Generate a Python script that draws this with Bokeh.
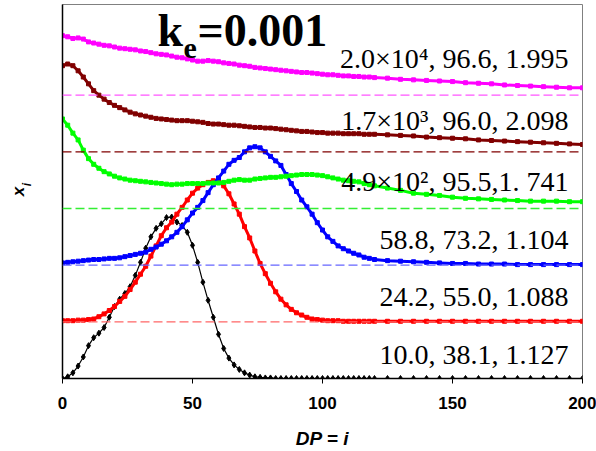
from bokeh.plotting import figure
from bokeh.models import Label, FixedTicker, Range1d, Span
from bokeh.embed import file_html
from bokeh.resources import INLINE

# Degree of polymerisation sampled values
DP = list(range(0, 121, 2)) + list(range(125, 201, 5))

# heights above each curve's own baseline
black_vals = [0.00, 0.03, 0.10, 0.22, 0.38, 0.58, 0.72, 0.80, 0.90, 1.08,
              1.27, 1.40, 1.50, 1.62, 1.82, 2.05, 2.30, 2.50, 2.65, 2.73,
              2.84, 2.85, 2.76, 2.70, 2.58, 2.35, 2.05, 1.70, 1.38, 1.08,
              0.78, 0.53, 0.36, 0.24, 0.16, 0.10, 0.06, 0.03, 0.02, 0.01,
              0.01, 0.00, 0.00, 0.00, 0.00, 0.00, 0.00, 0.00, 0.00, 0.00,
              0.00, 0.00, 0.00, 0.00, 0.00, 0.00, 0.00, 0.00, 0.00, 0.00,
              0.00,
              0.00, 0.00, 0.00, 0.00, 0.00, 0.00, 0.00, 0.00, 0.00, 0.00,
              0.00, 0.00, 0.00, 0.00, 0.00, 0.00]
red_vals = [0.02, 0.02, 0.02, 0.03, 0.03, 0.04, 0.05, 0.09, 0.14, 0.20,
            0.27, 0.36, 0.45, 0.57, 0.70, 0.84, 0.98, 1.16, 1.34, 1.52,
            1.66, 1.76, 1.90, 2.02, 2.15, 2.27, 2.36, 2.42, 2.46, 2.49,
            2.49, 2.40, 2.26, 2.08, 1.90, 1.68, 1.48, 1.25, 1.03, 0.85,
            0.68, 0.53, 0.40, 0.30, 0.22, 0.16, 0.12, 0.08, 0.05, 0.04,
            0.03, 0.02, 0.02, 0.02, 0.01, 0.01, 0.01, 0.01, 0.01, 0.01,
            0.01,
            0.01, 0.01, 0.01, 0.01, 0.01, 0.01, 0.01, 0.01, 0.01, 0.01,
            0.01, 0.01, 0.01, 0.01, 0.01, 0.01]
blue_vals = [0.04, 0.05, 0.06, 0.07, 0.08, 0.09, 0.10, 0.10, 0.11, 0.12,
             0.12, 0.13, 0.15, 0.17, 0.19, 0.21, 0.23, 0.28, 0.32, 0.37,
             0.43, 0.50, 0.58, 0.68, 0.80, 0.92, 1.02, 1.14, 1.28, 1.42,
             1.54, 1.66, 1.78, 1.85, 1.90, 2.00, 2.07, 2.09, 2.07, 2.00,
             1.92, 1.84, 1.76, 1.60, 1.44, 1.30, 1.15, 1.03, 0.90, 0.75,
             0.62, 0.50, 0.42, 0.34, 0.29, 0.25, 0.21, 0.18, 0.14, 0.12,
             0.10,
             0.08, 0.07, 0.06, 0.05, 0.04, 0.03, 0.03, 0.02, 0.02, 0.02,
             0.01, 0.01, 0.01, 0.01, 0.01, 0.01]
green_vals = [1.58, 1.47, 1.33, 1.21, 1.03, 0.88, 0.78, 0.71, 0.65, 0.61,
              0.57, 0.54, 0.52, 0.50, 0.49, 0.48, 0.47, 0.46, 0.45, 0.44,
              0.43, 0.42, 0.43, 0.43, 0.44, 0.44, 0.44, 0.44, 0.45, 0.45,
              0.45, 0.46, 0.48, 0.50, 0.51, 0.50, 0.50, 0.52, 0.53, 0.54,
              0.55, 0.55, 0.56, 0.57, 0.58, 0.59, 0.60, 0.60, 0.60, 0.59,
              0.58, 0.56, 0.54, 0.52, 0.50, 0.49, 0.48, 0.47, 0.44, 0.42,
              0.40,
              0.36, 0.32, 0.27, 0.25, 0.23, 0.20, 0.18, 0.17, 0.16, 0.15,
              0.14, 0.13, 0.13, 0.13, 0.12, 0.12]
darkred_vals = [1.52, 1.55, 1.52, 1.43, 1.32, 1.20, 1.08, 1.00, 0.93, 0.87,
                0.82, 0.78, 0.74, 0.70, 0.67, 0.65, 0.63, 0.61, 0.59, 0.58,
                0.57, 0.56, 0.55, 0.55, 0.55, 0.54, 0.53, 0.52, 0.50, 0.49,
                0.49, 0.48, 0.47, 0.47, 0.46, 0.45, 0.44, 0.43, 0.43, 0.42,
                0.42, 0.41, 0.40, 0.39, 0.38, 0.37, 0.36, 0.36, 0.35, 0.34,
                0.34, 0.33, 0.33, 0.33, 0.32, 0.32, 0.32, 0.32, 0.31, 0.31,
                0.31,
                0.30, 0.29, 0.28, 0.26, 0.25, 0.24, 0.23, 0.21, 0.20, 0.19,
                0.18, 0.17, 0.16, 0.15, 0.14, 0.13]
magenta_vals = [1.05, 1.03, 1.00, 1.01, 0.99, 0.94, 0.92, 0.90, 0.88, 0.87,
                0.85, 0.83, 0.82, 0.81, 0.80, 0.78, 0.77, 0.75, 0.73, 0.72,
                0.71, 0.69, 0.67, 0.66, 0.64, 0.62, 0.60, 0.60, 0.61, 0.60,
                0.59, 0.57, 0.56, 0.55, 0.53, 0.52, 0.51, 0.49, 0.48, 0.47,
                0.46, 0.45, 0.44, 0.43, 0.42, 0.41, 0.40, 0.40, 0.39, 0.38,
                0.37, 0.36, 0.36, 0.35, 0.34, 0.34, 0.33, 0.33, 0.32, 0.32,
                0.31,
                0.30, 0.28, 0.27, 0.26, 0.25, 0.24, 0.22, 0.21, 0.20, 0.18,
                0.17, 0.16, 0.15, 0.14, 0.13, 0.13]

series_vals = [black_vals, red_vals, blue_vals, green_vals, darkred_vals, magenta_vals]
series_colors = ["#000000", "#FF0000", "#0000FF", "#00FF00", "#800000", "#FF00FF"]
dash_colors = ["#000000", "#FF6666", "#6666FF", "#33EE33", "#800000", "#FF55FF"]
series_labels = ["10.0, 38.1, 1.127", "24.2, 55.0, 1.088", "58.8, 73.2, 1.104",
                 "4.9×10², 95.5,1. 741", "1.7×10³, 96.0, 2.098", "2.0×10⁴, 96.6, 1.995"]
label_y = [0.43, 1.44, 2.46, 3.47, 4.56, 5.64]

x_ticks = [0, 50, 100, 150, 200]

p = figure(width=596, height=451, x_range=Range1d(0, 200), y_range=Range1d(0, 6.6),
           output_backend="svg", toolbar_location=None,
           min_border_left=62, min_border_right=14, min_border_top=4, min_border_bottom=73)
p.xgrid.visible = False
p.ygrid.visible = False
p.outline_line_color = "#808080"
p.outline_line_width = 1
p.background_fill_color = "white"
p.border_fill_color = "white"

p.xaxis.ticker = FixedTicker(ticks=x_ticks)
p.xaxis.major_tick_out = 5
p.xaxis.major_tick_in = 0
p.xaxis.minor_tick_line_color = None
p.xaxis.axis_line_color = "black"
p.xaxis.axis_line_width = 1.5
p.xaxis.major_label_text_font = "Liberation Sans"
p.xaxis.major_label_text_font_style = "bold"
p.xaxis.major_label_text_font_size = "17px"
p.xaxis.major_label_text_color = "black"
p.xaxis.major_label_standoff = 13
p.xaxis.axis_label = "DP = i"
p.xaxis.axis_label_text_font = "Liberation Sans"
p.xaxis.axis_label_text_font_style = "bold italic"
p.xaxis.axis_label_text_font_size = "19px"
p.xaxis.axis_label_text_color = "black"
p.xaxis.axis_label_standoff = 16

# y axis: no numeric ticks; subscript "i" of the x_i label is carried by a tick label
p.yaxis.ticker = FixedTicker(ticks=[3.42])
p.yaxis.major_label_overrides = {3.42: "i"}
p.yaxis.major_label_orientation = "vertical"
p.yaxis.major_label_text_font = "Liberation Sans"
p.yaxis.major_label_text_font_style = "bold italic"
p.yaxis.major_label_text_font_size = "12px"
p.yaxis.major_label_text_color = "black"
p.yaxis.major_label_standoff = 22
p.yaxis.major_tick_line_color = None
p.yaxis.minor_tick_line_color = None
p.yaxis.axis_line_color = "black"
p.yaxis.axis_line_width = 1.5
p.yaxis.axis_label = "x"
p.yaxis.axis_label_text_font = "Liberation Sans"
p.yaxis.axis_label_text_font_style = "bold italic"
p.yaxis.axis_label_text_font_size = "17px"
p.yaxis.axis_label_text_color = "black"
p.yaxis.axis_label_standoff = -10

for k, c in enumerate(dash_colors):
    if k == 0:
        continue
    p.add_layout(Span(location=k, dimension="width", line_color=c,
                      line_dash="9 4", line_width=1.3))

for k, (vals, c) in enumerate(zip(series_vals, series_colors)):
    ys = [v + k for v in vals]
    if k == 0:
        p.line(DP, ys, line_color=c, line_width=1.2)
        p.scatter(DP, ys, marker="diamond", size=6, fill_color=c, line_color=c)
    else:
        p.line(DP, ys, line_color=c, line_width=3)
        p.scatter(DP, ys, marker="square", size=4, fill_color=c, line_color=c)

for txt, yy in zip(series_labels, label_y):
    p.add_layout(Label(x=194.6, y=yy, text=txt, text_align="right",
                       text_baseline="alphabetic", text_font="Liberation Serif",
                       text_font_size="28px", text_color="black"))

# title k_e=0.001
p.add_layout(Label(x=36.5, y=6.14, text="k", text_font="Liberation Serif",
                   text_font_style="bold", text_font_size="46px",
                   text_baseline="alphabetic", text_align="left", text_color="black"))
p.add_layout(Label(x=46.5, y=5.83, text="e", text_font="Liberation Serif",
                   text_font_style="bold", text_font_size="30px",
                   text_baseline="alphabetic", text_align="left", text_color="black"))
p.add_layout(Label(x=51.9, y=6.14, text="=0.001", text_font="Liberation Serif",
                   text_font_style="bold", text_font_size="46px",
                   text_baseline="alphabetic", text_align="left", text_color="black"))

open("out.html", "w").write(file_html(p, INLINE))
